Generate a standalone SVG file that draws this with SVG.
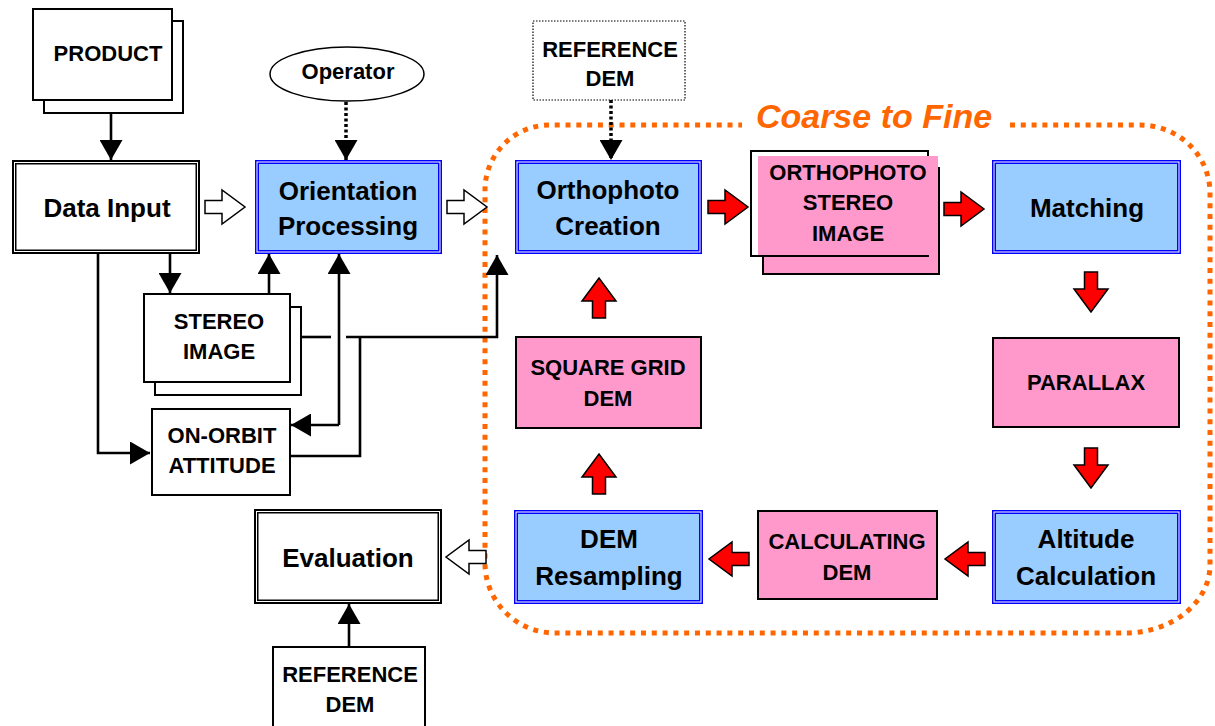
<svg xmlns="http://www.w3.org/2000/svg" width="1215" height="726" viewBox="0 0 1215 726">
<style>
text{font-family:"Liberation Sans",Arial,sans-serif;font-weight:bold;text-anchor:middle;fill:#000}
.t26{font-size:26px}
.t22{font-size:22px}
.doc{fill:#fff;stroke:#000;stroke-width:2}
.pink{fill:#FF99CC;stroke:#000;stroke-width:2}
.blue{fill:#99CCFF;stroke:#0000FF;stroke-width:4}
.blk{fill:#fff;stroke:#000;stroke-width:4.5}
.gap{fill:none;stroke:#fff;stroke-width:1}
.ln{fill:none;stroke:#000;stroke-width:2.6}
.dot{fill:none;stroke:#000;stroke-width:3.5;stroke-dasharray:3 2.5}
.red{fill:#FF0000;stroke:#000;stroke-width:1.5;stroke-linejoin:miter}
.hol{fill:#fff;stroke:#000;stroke-width:1.5}
</style>
<defs>
<marker id="ah" markerUnits="userSpaceOnUse" markerWidth="21" markerHeight="23" refX="20" refY="11.5" orient="auto" viewBox="0 0 21 23">
<path d="M0,0 L20,11.5 L0,23 Z" fill="#000"/>
</marker>
<path id="arr" d="M-20,-6.5 H-3 V-17 L20,0 L-3,17 V6.5 H-20 Z"/>
</defs>

<!-- Coarse to Fine frame -->
<g id="frame">
<path d="M1010,125 H1140 A70,68 0 0 1 1210,193 V565 A85,68 0 0 1 1125,633 H555 A70,70 0 0 1 485,563 V190 A65,65 0 0 1 550,125 H742" fill="none" stroke="#FF6600" stroke-width="5" stroke-dasharray="5 5.8"/>
<text x="874" y="128" style="font-size:34px;font-style:italic;fill:#FF6600">Coarse to Fine</text>
</g>

<g id="connectors">
<path class="ln" d="M111,113 V160" marker-end="url(#ah)"/>
<path class="dot" d="M346,102 V160" marker-end="url(#ah)"/>
<path class="dot" d="M611,100 V160" marker-end="url(#ah)"/>
<path class="ln" d="M98,254 V453 H150" marker-end="url(#ah)"/>
<path class="ln" d="M170,254 V293" marker-end="url(#ah)"/>
<path class="ln" d="M269,294 V254" marker-end="url(#ah)"/>
<path class="ln" d="M339,425 V254" marker-end="url(#ah)"/>
<path class="ln" d="M339,425 H291" marker-end="url(#ah)"/>
<path class="ln" d="M301,337 H331"/>
<path class="ln" d="M346,337 H497 V255" marker-end="url(#ah)"/>
<path class="ln" d="M290,456 H360 V337"/>
<path class="ln" d="M349,647 V604" marker-end="url(#ah)"/>
<use href="#arr" class="hol" transform="translate(225,207)"/>
<use href="#arr" class="hol" transform="translate(467,207)"/>
<use href="#arr" class="hol" transform="translate(466,557) rotate(180)"/>
<use href="#arr" class="red" transform="translate(728,207)"/>
<use href="#arr" class="red" transform="translate(964,209)"/>
<use href="#arr" class="red" transform="translate(1091,292) rotate(90)"/>
<use href="#arr" class="red" transform="translate(1091,468) rotate(90)"/>
<use href="#arr" class="red" transform="translate(965,559) rotate(180)"/>
<use href="#arr" class="red" transform="translate(729,559) rotate(180)"/>
<use href="#arr" class="red" transform="translate(599,474) rotate(-90)"/>
<use href="#arr" class="red" transform="translate(599,298) rotate(-90)"/>
</g>

<g id="product">
<rect class="doc" x="44" y="21" width="139" height="92" stroke-width="1.5"/>
<rect class="doc" x="33" y="9" width="139" height="91"/>
<text class="t22" x="108" y="61">PRODUCT</text>
</g>

<g id="data-input">
<rect class="blk" x="14.25" y="162.25" width="183.5" height="89.5"/>
<rect class="gap" x="14.5" y="162.5" width="183" height="89"/>
<text class="t26" x="107" y="217">Data Input</text>
</g>

<g id="operator">
<ellipse cx="347" cy="74" rx="77" ry="27" fill="#fff" stroke="#000" stroke-width="1.5"/>
<text class="t22" x="348" y="79">Operator</text>
</g>

<g id="orientation">
<rect class="blue" x="257" y="162" width="183" height="90"/>
<rect class="gap" x="257" y="162" width="183" height="90"/>
<text class="t26" x="348" y="200">Orientation</text>
<text class="t26" x="348" y="235">Processing</text>
</g>

<g id="stereo-image">
<rect class="doc" x="155" y="307" width="146" height="88" stroke-width="1.5"/>
<rect class="doc" x="144" y="294" width="146" height="88"/>
<text class="t22" x="219" y="329">STEREO</text>
<text class="t22" x="219" y="359">IMAGE</text>
</g>

<g id="on-orbit">
<rect class="doc" x="152" y="409" width="138" height="86"/>
<text class="t22" x="222" y="443">ON-ORBIT</text>
<text class="t22" x="222" y="473">ATTITUDE</text>
</g>

<g id="ref-dem-top">
<rect x="533" y="21" width="152" height="79" fill="#fff" stroke="#000" stroke-width="1.2" stroke-dasharray="1.5 1.5"/>
<text class="t22" x="610" y="57">REFERENCE</text>
<text class="t22" x="610" y="86">DEM</text>
</g>

<g id="ortho-creation">
<rect class="blue" x="517" y="162" width="183" height="90"/>
<rect class="gap" x="517" y="162" width="183" height="90"/>
<text class="t26" x="608" y="199">Orthophoto</text>
<text class="t26" x="608" y="235">Creation</text>
</g>

<g id="ortho-stereo">
<rect class="pink" x="763" y="168" width="176" height="106"/>
<rect class="doc" x="751" y="151" width="177" height="105"/>
<rect x="758" y="156" width="180" height="99" fill="#FF99CC"/>
<text class="t22" x="848" y="180">ORTHOPHOTO</text>
<text class="t22" x="848" y="210">STEREO</text>
<text class="t22" x="848" y="241">IMAGE</text>
</g>

<g id="matching">
<rect class="blue" x="994" y="162" width="185" height="90"/>
<rect class="gap" x="994" y="162" width="185" height="90"/>
<text class="t26" x="1087" y="217">Matching</text>
</g>

<g id="parallax">
<rect class="pink" x="993" y="338" width="186" height="89"/>
<text class="t22" x="1086" y="390">PARALLAX</text>
</g>

<g id="altitude">
<rect class="blue" x="994" y="512" width="185" height="90"/>
<rect class="gap" x="994" y="512" width="185" height="90"/>
<text class="t26" x="1086" y="548">Altitude</text>
<text class="t26" x="1086" y="585">Calculation</text>
</g>

<g id="calculating-dem">
<rect class="pink" x="758" y="511" width="179" height="88"/>
<text class="t22" x="847" y="549">CALCULATING</text>
<text class="t22" x="847" y="580">DEM</text>
</g>

<g id="dem-resampling">
<rect class="blue" x="516" y="512" width="185" height="90"/>
<rect class="gap" x="516" y="512" width="185" height="90"/>
<text class="t26" x="609" y="548">DEM</text>
<text class="t26" x="609" y="585">Resampling</text>
</g>

<g id="square-grid">
<rect class="pink" x="516" y="337" width="185" height="91"/>
<text class="t22" x="608" y="375">SQUARE GRID</text>
<text class="t22" x="608" y="406">DEM</text>
</g>

<g id="evaluation">
<rect class="blk" x="256.25" y="511.25" width="183.5" height="90.5"/>
<rect class="gap" x="256.5" y="511.5" width="183" height="90"/>
<text class="t26" x="348" y="567">Evaluation</text>
</g>

<g id="ref-dem-bottom">
<rect class="doc" x="273" y="647" width="152" height="90"/>
<text class="t22" x="350" y="682">REFERENCE</text>
<text class="t22" x="350" y="712">DEM</text>
</g>
</svg>
